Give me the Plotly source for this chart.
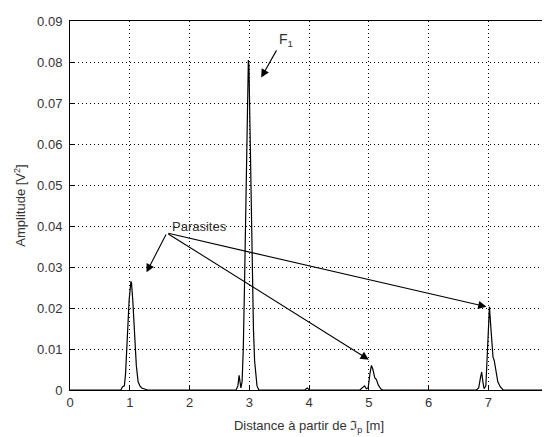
import plotly.graph_objects as go

# Distance (m) and amplitude (V^2)
distance = [0, 0.85, 0.88, 0.91, 0.93, 0.96, 0.99, 1.02, 1.03, 1.05, 1.08, 1.11, 1.14, 1.17, 1.2, 1.25, 1.3,
            2.78, 2.81, 2.83, 2.845, 2.86, 2.88, 2.9, 2.92, 2.94, 2.96, 2.975, 2.985, 2.995, 3.01, 3.03, 3.05,
            3.07, 3.09, 3.11, 3.13, 3.16,
            3.93, 3.97, 4.01,
            4.85, 4.9, 4.93, 4.96, 4.99, 5.02, 5.045, 5.07, 5.1, 5.13, 5.16, 5.2, 5.23,
            6.8, 6.84, 6.87, 6.89, 6.91, 6.93, 6.96, 6.98, 7.0, 7.02, 7.04, 7.06, 7.08, 7.1, 7.13, 7.16,
            7.2, 7.25, 7.9]
amplitude = [0, 0, 0.0008, 0.001, 0.004, 0.012, 0.022, 0.0265, 0.026, 0.022, 0.013, 0.006, 0.002, 0.001, 0.0005, 0.0002, 0,
             0, 0.001, 0.0036, 0.002, 0.0005, 0.002, 0.01, 0.025, 0.045, 0.065, 0.078, 0.0805, 0.079, 0.066, 0.045, 0.028,
             0.015, 0.007, 0.003, 0.001, 0,
             0, 0.0005, 0,
             0, 0.0005, 0.001, 0.0003, 0.0005, 0.004, 0.006, 0.005, 0.003, 0.0025, 0.0012, 0.0003, 0,
             0, 0.0005, 0.003, 0.0044, 0.002, 0.0003, 0.001, 0.008, 0.017, 0.0203, 0.016, 0.011, 0.008, 0.0072, 0.004, 0.002,
             0.0008, 0, 0]

x_ticks = [0, 1, 2, 3, 4, 5, 6, 7, 8]
x_tick_labels = ["0", "1", "2", "3", "4", "5", "6", "7", "8"]
y_ticks = [0, 0.01, 0.02, 0.03, 0.04, 0.05, 0.06, 0.07, 0.08, 0.09]
y_tick_labels = ["0", "0.01", "0.02", "0.03", "0.04", "0.05", "0.06", "0.07", "0.08", "0.09"]

# annotation anchors (data coords)
parasites_label = (2.17, 0.0400)
parasites_origin = (1.62, 0.0383)
parasites_targets = [(1.28, 0.0287), (5.0, 0.0074), (6.97, 0.0203)]
f1_label = (3.62, 0.0853)
f1_tail = (3.47, 0.0832)
f1_head = (3.2, 0.0762)

fig = go.Figure()
fig.add_trace(go.Scatter(x=distance, y=amplitude, mode="lines",
                         line=dict(color="black", width=1.2), showlegend=False))

family = "Liberation Sans, Arial, sans-serif"
font = dict(family=family, size=13, color="#333333")

annotations = []
for tx, ty in parasites_targets:
    annotations.append(dict(x=tx, y=ty, ax=parasites_origin[0], ay=parasites_origin[1],
                            xref="x", yref="y", axref="x", ayref="y", text="",
                            showarrow=True, arrowhead=2, arrowsize=1.5, arrowwidth=1.1,
                            arrowcolor="black"))
annotations.append(dict(x=parasites_label[0], y=parasites_label[1], xref="x", yref="y",
                        text="Parasites", showarrow=False, font=font,
                        xanchor="center", yanchor="middle"))
annotations.append(dict(x=f1_head[0], y=f1_head[1], ax=f1_tail[0], ay=f1_tail[1],
                        xref="x", yref="y", axref="x", ayref="y", text="",
                        showarrow=True, arrowhead=2, arrowsize=1.5, arrowwidth=1.1,
                        arrowcolor="black"))
annotations.append(dict(x=f1_label[0], y=f1_label[1], xref="x", yref="y",
                        text="F<sub>1</sub>", showarrow=False,
                        font=dict(family=family, size=14, color="#333333"),
                        xanchor="center", yanchor="middle"))

axis_common = dict(showline=True, linecolor="black", linewidth=1, mirror=True,
                   ticks="inside", ticklen=4, tickcolor="black",
                   showgrid=True, gridcolor="black", griddash="1px,3px", gridwidth=1,
                   zeroline=False, tickfont=font, ticklabeloverflow="allow")

fig.update_layout(
    width=550, height=437,
    margin=dict(l=62, r=7, t=6, b=55),
    paper_bgcolor="white", plot_bgcolor="white",
    xaxis=dict(range=[0, 8], tickvals=x_ticks, ticktext=x_tick_labels,
               title=dict(text="Distance à partir de ℑ<sub>p</sub> [m]", font=font, standoff=12),
               **axis_common),
    yaxis=dict(range=[0, 0.09], tickvals=y_ticks, ticktext=y_tick_labels,
               ticklabelstandoff=4,
               title=dict(text="Amplitude [V<sup>2</sup>]", font=font, standoff=8),
               **axis_common),
    annotations=annotations,
)

fig.write_html("out.html")
